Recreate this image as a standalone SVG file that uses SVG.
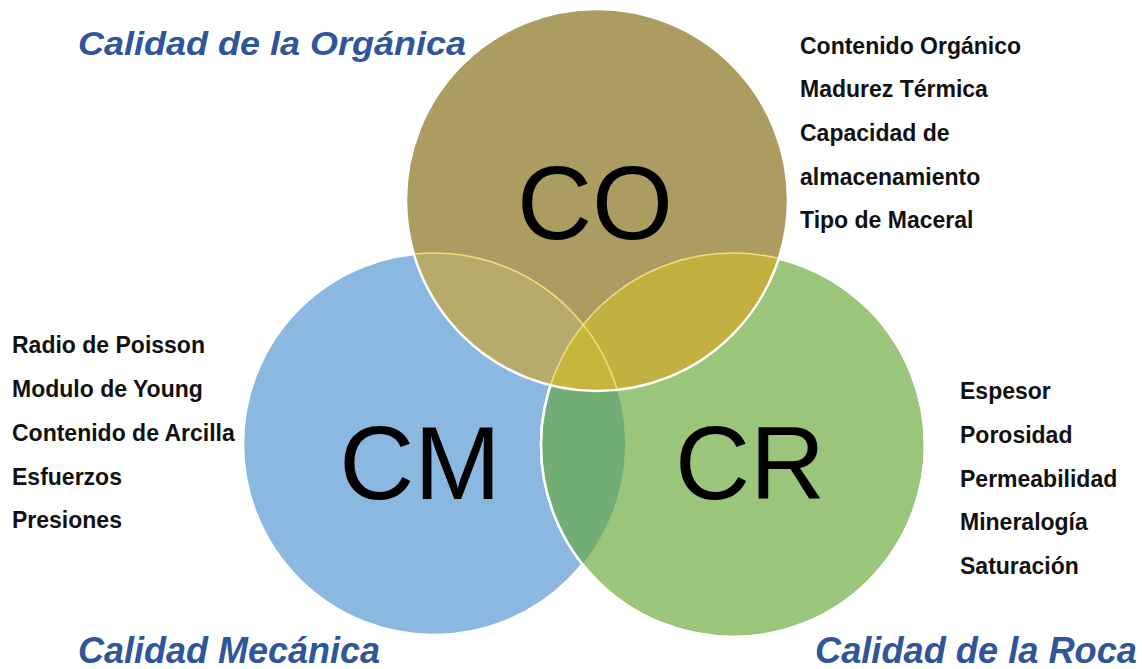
<svg xmlns="http://www.w3.org/2000/svg" width="1142" height="669" viewBox="0 0 1142 669">
<style>
.title{font-family:"Liberation Sans",Arial,sans-serif;font-weight:bold;font-style:italic;fill:#2f559a;}
.item{font-family:"Liberation Sans",Arial,sans-serif;font-weight:bold;font-size:23px;fill:#111;}
.big{font-family:"Liberation Sans",Arial,sans-serif;font-size:104px;fill:#000;text-anchor:middle;}
.edge{fill:none;stroke:#ffffff;stroke-width:2.5;}
.inner{fill:none;stroke:#f3da7c;stroke-width:1.6;}
</style>
<defs>
<clipPath id="clipCM"><circle cx="434" cy="444" r="191"/></clipPath>
<clipPath id="clipCR"><circle cx="733" cy="445" r="192"/></clipPath>
<clipPath id="clipCO"><circle cx="597" cy="200" r="191"/></clipPath>
</defs>
<rect width="1142" height="669" fill="#ffffff"/>

<g id="node-cm">
<circle cx="434" cy="444" r="191" style="fill:#8bb8e1;stroke:#fff;stroke-width:2.5"/>
</g>

<g id="node-cr">
<circle cx="733" cy="445" r="192" style="fill:#9ac57b;stroke:#fff;stroke-width:2.5"/>
<circle cx="733" cy="445" r="192" fill="#72ad75" clip-path="url(#clipCM)"/>
<circle cx="733" cy="445" r="192" class="edge"/>
</g>

<g id="node-co">
<circle cx="597" cy="200" r="191" fill="#ab9c61"/>
<circle cx="597" cy="200" r="191" fill="#b7ab6c" clip-path="url(#clipCM)"/>
<circle cx="597" cy="200" r="191" fill="#c2b140" clip-path="url(#clipCR)"/>
<g clip-path="url(#clipCM)"><circle cx="597" cy="200" r="191" fill="#c7b63b" clip-path="url(#clipCR)"/></g>
<g clip-path="url(#clipCO)">
<circle cx="434" cy="444" r="191" class="inner"/>
<circle cx="733" cy="445" r="192" class="inner"/>
</g>
<circle cx="597" cy="200" r="191" class="edge"/>
</g>

<g id="label-co">
<text class="big" x="595" y="239">CO</text>
</g>
<g id="label-cm">
<text class="big" x="420" y="499">CM</text>
</g>
<g id="label-cr">
<text class="big" x="750" y="499">CR</text>
</g>

<g id="title-organica">
<text class="title" x="78" y="55" font-size="34" textLength="388" lengthAdjust="spacingAndGlyphs">Calidad de la Orgánica</text>
</g>
<g id="title-mecanica">
<text class="title" x="78" y="663" font-size="37" textLength="302" lengthAdjust="spacingAndGlyphs">Calidad Mecánica</text>
</g>
<g id="title-roca">
<text class="title" x="815" y="663" font-size="37" textLength="322" lengthAdjust="spacingAndGlyphs">Calidad de la Roca</text>
</g>

<g id="list-co">
<text class="item" x="800" y="54">Contenido Orgánico</text>
<text class="item" x="800" y="97">Madurez Térmica</text>
<text class="item" x="800" y="141">Capacidad de</text>
<text class="item" x="800" y="185">almacenamiento</text>
<text class="item" x="800" y="228">Tipo de Maceral</text>
</g>
<g id="list-cm">
<text class="item" x="12" y="353">Radio de Poisson</text>
<text class="item" x="12" y="397">Modulo de Young</text>
<text class="item" x="12" y="441">Contenido de Arcilla</text>
<text class="item" x="12" y="485">Esfuerzos</text>
<text class="item" x="12" y="528">Presiones</text>
</g>
<g id="list-cr">
<text class="item" x="960" y="399">Espesor</text>
<text class="item" x="960" y="443">Porosidad</text>
<text class="item" x="960" y="487">Permeabilidad</text>
<text class="item" x="960" y="530">Mineralogía</text>
<text class="item" x="960" y="574">Saturación</text>
</g>
</svg>
